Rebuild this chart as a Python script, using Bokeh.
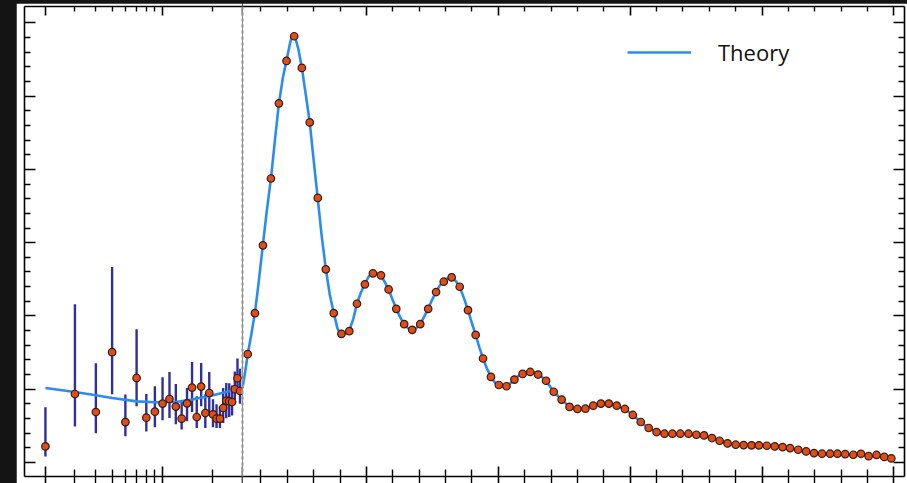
from bokeh.plotting import figure
from bokeh.models import (Range1d, LinearAxis, LogAxis, FixedTicker, Span, Legend, LegendItem,
                          ColumnDataSource, Spacer, GlobalInlineStyleSheet, CustomLabelingPolicy)
from bokeh.layouts import row, column
from bokeh.embed import file_html
from bokeh.resources import INLINE

# ---------------- data ----------------
low_l = [2, 3, 4, 5, 6, 7, 8, 9, 10, 11, 12, 13, 14, 15, 16, 17, 18, 19, 20, 21, 22, 23, 24, 25, 26, 27, 28, 29]
low_D = [219, 934, 688, 1505, 551, 1153, 611, 693, 803, 866, 762, 598, 807, 1022, 620, 1035, 675, 948, 657, 598,
         598, 743, 844, 834, 825, 999, 1149, 975]
low_lo = [82, 490, 400, 930, 356, 766, 424, 479, 575, 606, 520, 451, 561, 688, 469, 766, 470, 675, 479, 469,
          469, 538, 602, 620, 640, 800, 990, 800]
low_hi = [752, 2160, 1354, 2667, 926, 1818, 934, 1040, 1163, 1235, 1071, 834, 1016, 1372, 903, 1358, 930, 1235, 862, 793,
          766, 1016, 1085, 1080, 1050, 1240, 1420, 1280]

high_l = [49.7, 77, 107.5, 137.8, 168, 197, 226, 255, 285, 315.5, 345.7, 376, 405, 435, 464, 494, 524.5, 555, 584, 613,
          643, 673.5, 704, 734, 764, 793, 823, 853.5, 885, 914, 942, 972, 1002, 1031, 1061, 1092, 1121, 1151, 1181, 1210,
          1240, 1270, 1300, 1330, 1360, 1389, 1419, 1449, 1480, 1510, 1540, 1570, 1600, 1630, 1660, 1690, 1721, 1751,
          1780, 1810, 1839, 1869, 1900, 1930, 1960, 1988, 2018, 2048, 2078, 2106, 2137, 2167, 2197, 2227, 2258, 2286,
          2315, 2346, 2375, 2404, 2434, 2463, 2490]
high_D = [1478, 2038, 2964, 3876, 4902, 5481, 5818, 5386, 4642, 3611, 2636, 2038, 1755, 1792, 2166, 2431, 2581, 2554,
          2362, 2097, 1888, 1810, 1888, 2097, 2326, 2467, 2527, 2398, 2079, 1741, 1419, 1167, 1057, 1040, 1131, 1208,
          1235, 1200, 1115, 965, 858, 758, 730, 734, 775, 803, 803, 775, 730, 648, 552, 470, 415, 392, 392, 392, 392,
          378, 369, 333, 296, 260, 242, 237, 233, 233, 228, 219, 210, 196, 173, 150, 128, 119, 119, 119, 114, 105,
          118, 86, 102, 75, 55]

theory_low_l = [2, 3, 4, 5, 7, 9, 12, 15, 20, 25, 30]
theory_low_D = [1016, 962, 917, 880, 834, 821, 825, 858, 917, 971, 1016]

theory_high_l = [30, 40, 50, 63, 77, 92, 107, 122, 138, 153, 168, 183, 197, 210, 220, 230, 242, 255, 270, 285, 300,
                 315, 330, 346, 361, 376, 390, 400, 412, 424, 435, 450, 464, 479, 494, 509, 524, 540, 555, 570, 584,
                 598, 613, 628, 643, 658, 673, 688, 704, 719, 734, 749, 764, 779, 793, 808, 823, 838, 853, 869, 885,
                 900, 914, 928, 942, 957, 972, 987, 1002, 1016, 1031, 1046, 1061, 1076, 1092, 1106, 1121, 1136, 1151,
                 1166, 1181, 1210, 1240, 1270, 1300, 1330, 1360, 1389, 1419, 1449, 1480, 1510, 1540, 1570, 1600, 1630,
                 1660, 1690, 1721, 1751, 1780, 1810, 1839, 1869, 1900, 1930, 1960, 1988, 2018, 2048, 2078, 2106, 2137,
                 2167, 2197, 2227, 2258, 2286, 2315, 2346, 2375, 2404, 2434, 2463, 2490]
theory_high_D = [1016, 1230, 1480, 1740, 2040, 2480, 2960, 3430, 3880, 4400, 4900, 5250, 5490, 5720, 5850, 5800, 5640,
                 5390, 5020, 4640, 4120, 3610, 3100, 2640, 2290, 2040, 1830, 1760, 1740, 1760, 1800, 1960, 2170, 2320,
                 2440, 2540, 2585, 2580, 2550, 2460, 2360, 2230, 2100, 1980, 1890, 1830, 1810, 1830, 1890, 1990, 2100,
                 2220, 2330, 2420, 2470, 2515, 2525, 2480, 2400, 2250, 2080, 1900, 1740, 1570, 1420, 1280, 1170, 1090,
                 1055, 1035, 1040, 1080, 1130, 1180, 1210, 1232, 1235, 1225, 1200, 1165, 1115, 965, 858, 758, 730, 734,
                 775, 803, 803, 775, 730, 648, 552, 470, 415, 392, 392, 392, 392, 378, 369, 333, 296, 260, 242, 237,
                 233, 233, 228, 219, 210, 196, 173, 150, 128, 119, 119, 119, 114, 108, 102, 95, 86, 75, 62]

y_major = [0, 1000, 2000, 3000, 4000, 5000, 6000]
y_minor = [200, 400, 600, 800, 1200, 1400, 1600, 1800, 2200, 2400, 2600, 2800, 3200, 3400, 3600, 3800,
           4200, 4400, 4600, 4800, 5200, 5400, 5600, 5800]
xlow_major = [2, 10, 30]
xlow_minor = [3, 4, 5, 6, 7, 8, 9, 20]
xhigh_major = [500, 1000, 1500, 2000, 2500]
xhigh_minor = [100, 200, 300, 400, 600, 700, 800, 900, 1100, 1200, 1300, 1400, 1600, 1700, 1800, 1900,
               2100, 2200, 2300, 2400]

# ---------------- style ----------------
LINE_C = "#2a8cf2"
PT_FILL = "#dc4e1c"
PT_LINE = "#3b1a0c"
ERR_C = "#30309a"
Y0, Y1 = -192, 6224
H = 480


def style_axis(ax, tin, tout, mtin, mtout, standoff):
    ax.major_tick_in = tin
    ax.major_tick_out = tout
    ax.minor_tick_in = mtin
    ax.minor_tick_out = mtout
    ax.major_tick_line_width = 1.6
    ax.minor_tick_line_width = 1.4
    ax.axis_line_width = 1.6
    ax.major_tick_line_color = "black"
    ax.minor_tick_line_color = "black"
    ax.axis_line_color = "black"
    # tick labels lie outside the cropped reference picture: none are shown
    ax.major_label_policy = CustomLabelingPolicy(code="return []")
    ax.major_label_text_font_size = "1px"
    ax.major_label_standoff = standoff


def make_fig(width, xrange, log, mbl, mbr):
    p = figure(width=width, height=H, x_axis_type="log" if log else "linear",
               x_range=xrange, y_range=Range1d(Y0, Y1),
               x_axis_location=None, y_axis_location=None,
               output_backend="svg", toolbar_location=None,
               min_border_left=mbl, min_border_right=mbr, min_border_top=1, min_border_bottom=0)
    p.outline_line_color = None
    p.background_fill_color = "white"
    p.border_fill_color = "white"
    p.grid.visible = False
    return p


# left (log) panel
pl = make_fig(226, Range1d(1.5, 30), True, 8, 0)
for loc, (ti, to, mi, mo, so) in (("above", (9, 0, 5, 0, -1)), ("below", (10, 8, 7, 8, -5))):
    ax = LogAxis(ticker=FixedTicker(ticks=xlow_major, minor_ticks=xlow_minor))
    style_axis(ax, ti, to, mi, mo, so)
    pl.add_layout(ax, loc)
ay = LinearAxis(ticker=FixedTicker(ticks=y_major, minor_ticks=y_minor))
style_axis(ay, 11, 0, 6, 0, 0)
pl.add_layout(ay, "left")
pl.add_layout(Span(location=30, dimension="height", line_color="#a8a8a8", line_width=2.4, line_dash="3 3"))

src_low = ColumnDataSource(dict(l=low_l, D=low_D, lo=low_lo, hi=low_hi))
pl.segment(x0="l", y0="lo", x1="l", y1="hi", source=src_low, line_color=ERR_C, line_width=2.4)
pl.line(theory_low_l, theory_low_D, line_color=LINE_C, line_width=2.6)
pl.scatter("l", "D", source=src_low, size=7.5, fill_color=PT_FILL, line_color=PT_LINE, line_width=1.2)

# right (linear) panel
pr = make_fig(665, Range1d(30, 2540), False, 0, 3)
for loc, (ti, to, mi, mo, so) in (("above", (9, 0, 5, 0, -1)), ("below", (10, 8, 7, 8, -5))):
    ax = LinearAxis(ticker=FixedTicker(ticks=xhigh_major, minor_ticks=xhigh_minor))
    style_axis(ax, ti, to, mi, mo, so)
    pr.add_layout(ax, loc)
ay2 = LinearAxis(ticker=FixedTicker(ticks=y_major, minor_ticks=y_minor))
style_axis(ay2, 11, 0, 6, 0, -2)
pr.add_layout(ay2, "right")

pr.add_layout(Span(location=30, dimension="height", line_color="#a8a8a8", line_width=2.4, line_dash="3 3"))

src_high = ColumnDataSource(dict(l=high_l, D=high_D))
theory_r = pr.line(theory_high_l, theory_high_D, line_color=LINE_C, line_width=2.6)
pr.scatter("l", "D", source=src_high, size=7.5, fill_color=PT_FILL, line_color=PT_LINE, line_width=1.2)

legend = Legend(items=[LegendItem(label="Theory", renderers=[theory_r])],
                location=(385, 409), border_line_color=None, background_fill_alpha=0,
                glyph_width=64, glyph_height=20, label_standoff=27, padding=0, margin=0, spacing=0,
                label_text_font="Open Sans", label_text_font_size="22px", label_text_color="#111111")
pr.add_layout(legend)

layout = column(Spacer(width=907, height=3),
                row(Spacer(width=16, height=H), pl, pr),
                stylesheets=[GlobalInlineStyleSheet(css="html,body{background:#141414;overflow:hidden;}")])

open("out.html", "w").write(file_html(layout, INLINE))
